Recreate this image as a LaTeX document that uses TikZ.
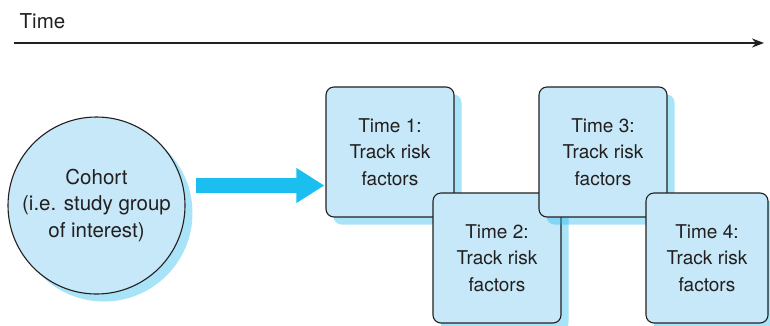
\documentclass[tikz,border=0pt]{standalone}
\usepackage{fontspec}
\setmainfont{TeX Gyre Heros}
\usetikzlibrary{arrows.meta,shadows}
\definecolor{boxfill}{HTML}{C6E8F8}
\definecolor{arrowblue}{HTML}{1BBFEF}
\definecolor{shadowblue}{HTML}{1BB6EC}
\definecolor{ink}{HTML}{231F20}
\tikzset{
  txt/.style={text=ink, align=center, font=\fontsize{19}{26.5}\selectfont},
  shad/.style={drop shadow={shadow xshift=7.5pt, shadow yshift=-7.5pt, fill=shadowblue, opacity=0.38}},
  stagebox/.style={txt, shad, draw=ink, line width=1.1pt, fill=boxfill, rounded corners=8pt,
    minimum width=128pt, minimum height=130pt, inner sep=0pt},
  cohortnode/.style={txt, font=\fontsize{20.5}{26.5}\selectfont, shad, circle, draw=ink, line width=1.1pt, fill=boxfill,
    minimum size=177pt, inner sep=0pt}
}
\begin{document}
\begin{tikzpicture}[x=1pt,y=1pt]
\useasboundingbox (0,0) rectangle (770,-325);
% time axis
\node[anchor=base west, inner sep=0pt, text=ink, font=\fontsize{20.5}{24}\selectfont] (timelbl) at (19.5,-28.3) {Time};
\coordinate (axisL) at (14,-43);
\coordinate (axisR) at (764,-43);
\draw[ink, line width=2pt, -{Stealth[length=12pt,width=9pt]}] (axisL) -- (axisR);
% cohort
\node[cohortnode] (cohort) at (96.5,-205.5) {Cohort\\(i.e. study group\\of interest)};
% boxes
\node[stagebox] (t1) at (390,-152) {Time 1:\\Track risk\\factors};
\node[stagebox] (t2) at (497,-258) {Time 2:\\Track risk\\factors};
\node[stagebox] (t3) at (603,-152) {Time 3:\\Track risk\\factors};
\node[stagebox, minimum width=122pt] (t4) at (707,-258) {Time 4:\\Track risk\\factors};
% big arrow
\coordinate (arrS) at ([xshift=10pt]cohort.east |- 0,-185.5);
\coordinate (arrE) at ([xshift=-1pt]t1.west |- 0,-185.5);
\draw[arrowblue, line width=15pt, -{Triangle[length=28pt,width=33pt]}] (arrS) -- (arrE);
\end{tikzpicture}
\end{document}
